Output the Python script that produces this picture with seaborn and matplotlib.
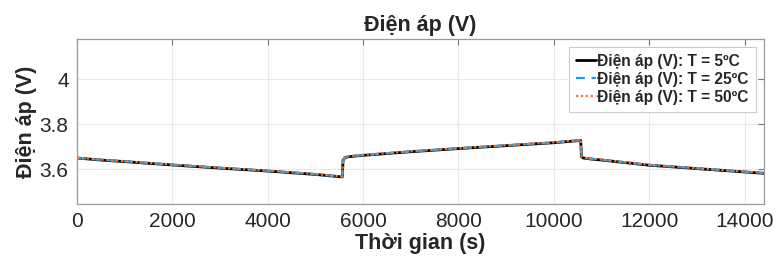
import pandas as pd
import seaborn as sns
import matplotlib.pyplot as plt
from matplotlib.ticker import FuncFormatter

# time axis (s) and terminal voltage (V)
time_s = [0, 500, 1000, 2000, 3000, 4000, 5000, 5550, 5565, 5580, 5620, 5700,
          6000, 7000, 8000, 9000, 10000, 10550, 10565, 10580, 10620, 10800,
          11000, 12000, 13000, 14000, 14400]
v_5c = [3.650, 3.641, 3.634, 3.619, 3.605, 3.592, 3.577, 3.566, 3.566, 3.640,
        3.652, 3.656, 3.662, 3.678, 3.692, 3.705, 3.718, 3.728, 3.728, 3.656,
        3.650, 3.645, 3.641, 3.618, 3.603, 3.588, 3.582]
v_25c = [3.650, 3.642, 3.635, 3.620, 3.606, 3.593, 3.578, 3.567, 3.567, 3.641,
         3.653, 3.657, 3.663, 3.679, 3.693, 3.706, 3.719, 3.729, 3.729, 3.657,
         3.651, 3.646, 3.642, 3.619, 3.604, 3.589, 3.583]
v_50c = [3.651, 3.643, 3.636, 3.621, 3.607, 3.594, 3.579, 3.568, 3.568, 3.642,
         3.654, 3.658, 3.664, 3.680, 3.694, 3.707, 3.720, 3.730, 3.730, 3.658,
         3.652, 3.647, 3.643, 3.620, 3.605, 3.590, 3.584]

labels = ["Điện áp (V): T = 5ºC", "Điện áp (V): T = 25ºC", "Điện áp (V): T = 50ºC"]
colors = ["#000000", "#1E9BE8", "#F07A3C"]

frames = []
for lab, v in zip(labels, [v_5c, v_25c, v_50c]):
    frames.append(pd.DataFrame({"t": time_s, "v": v, "series": lab}))
df = pd.concat(frames, ignore_index=True)

sns.set_style("whitegrid")
plt.rcParams["font.family"] = ["Liberation Sans", "DejaVu Sans"]

fig = plt.figure(figsize=(7.76, 2.61), dpi=100)
ax = fig.add_axes([0.0992, 0.218, 0.8848, 0.633])

widths = [2.0, 1.6, 1.6]
dashes = [(None, None), (4, 3), (1, 1.2)]
for lab, c, lw, d in zip(labels, colors, widths, dashes):
    sub = df[df["series"] == lab]
    sns.lineplot(data=sub, x="t", y="v", color=c, linewidth=lw,
                 label=lab, ax=ax, estimator=None, sort=False)
    if d[0] is not None:
        ax.lines[-1].set_dashes(d)

ax.set_xlim(0, 14400)
ax.set_ylim(3.445, 4.18)
ax.set_xticks(range(0, 14001, 2000))
ax.set_yticks([3.6, 3.8, 4.0])
ax.yaxis.set_major_formatter(FuncFormatter(lambda y, _: "%g" % round(y, 2)))

ax.grid(True, color="#e8e8e8", linewidth=0.8)
for s in ax.spines.values():
    s.set_color("#9a9a9a")
    s.set_linewidth(0.9)
ax.tick_params(direction="in", top=True, right=True, length=4, width=0.8,
               color="#777777", labelsize=15, pad=6)

ax.set_title("Điện áp (V)", fontsize=15.5, fontweight="bold", pad=6)
ax.set_xlabel("Thời gian (s)", fontsize=15.5, fontweight="bold", labelpad=1)
ax.set_ylabel("Điện áp (V)", fontsize=15.5, fontweight="bold", labelpad=2)

leg = ax.legend(loc="upper right", prop={"size": 11.2, "weight": "bold"},
                handlelength=1.3, handletextpad=0.1, labelspacing=0.2,
                borderpad=0.45, borderaxespad=0.5, frameon=True, fancybox=False,
                framealpha=1)
leg.get_frame().set_edgecolor("#cccccc")
leg.get_frame().set_linewidth(0.8)

fig.savefig("out.png", dpi=100)
